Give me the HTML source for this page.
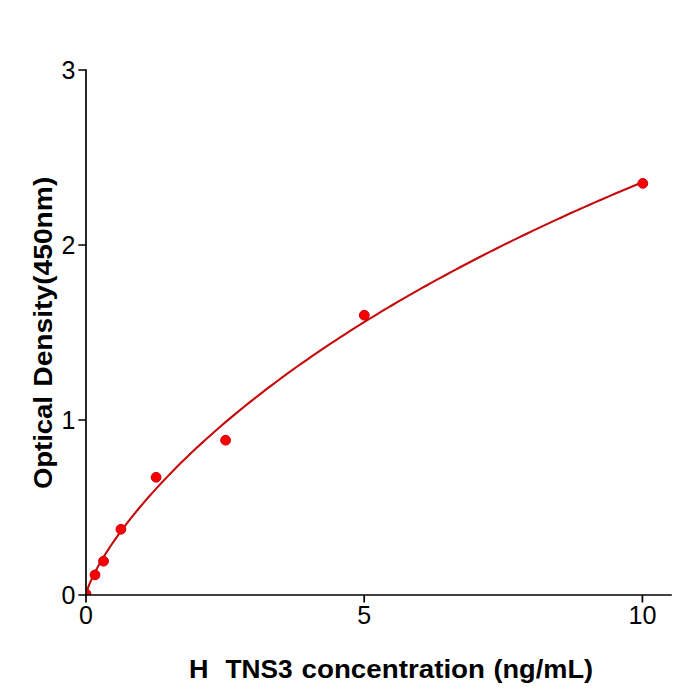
<!DOCTYPE html>
<html><head><meta charset="utf-8"><style>
html,body{margin:0;padding:0;background:#fff;width:700px;height:700px;overflow:hidden}
svg{display:block}
text{font-family:"Liberation Sans",sans-serif;fill:#000}
</style></head><body>
<svg width="700" height="700" viewBox="0 0 700 700">
<defs><clipPath id="ax"><rect x="86" y="0" width="600" height="595"/></clipPath></defs>
<g clip-path="url(#ax)">
<polyline points="86.00,595.00 86.01,594.89 86.04,594.67 86.09,594.38 86.15,594.03 86.24,593.63 86.35,593.18 86.47,592.69 86.61,592.15 86.78,591.58 86.96,590.97 87.16,590.33 87.38,589.65 87.62,588.95 87.88,588.21 88.16,587.44 88.46,586.64 88.77,585.82 89.11,584.97 89.46,584.09 89.84,583.19 90.23,582.27 90.64,581.32 91.07,580.35 91.52,579.35 91.99,578.33 92.48,577.30 92.99,576.24 93.52,575.16 94.07,574.06 94.63,572.94 95.22,571.80 95.82,570.64 96.44,569.46 97.09,568.27 97.75,567.06 98.43,565.83 99.13,564.58 99.85,563.32 100.59,562.04 101.34,560.74 102.12,559.43 102.92,558.10 103.73,556.76 104.57,555.40 105.42,554.03 106.29,552.64 107.19,551.24 108.10,549.82 109.03,548.39 109.98,546.95 110.94,545.49 111.93,544.03 112.94,542.54 113.97,541.05 115.01,539.54 116.08,538.03 117.16,536.49 118.26,534.95 119.38,533.40 124.18,526.92 128.98,520.67 133.78,514.63 138.58,508.77 143.38,503.08 148.17,497.54 152.97,492.14 157.77,486.86 162.57,481.70 167.37,476.65 172.17,471.70 176.96,466.85 181.76,462.09 186.56,457.41 191.36,452.82 196.16,448.30 200.96,443.86 205.75,439.48 210.55,435.18 215.35,430.94 220.15,426.76 224.95,422.64 229.75,418.58 234.54,414.57 239.34,410.62 244.14,406.72 248.94,402.87 253.74,399.06 258.54,395.31 263.33,391.59 268.13,387.93 272.93,384.30 277.73,380.72 282.53,377.17 287.32,373.67 292.12,370.20 296.92,366.77 301.72,363.38 306.52,360.02 311.32,356.69 316.11,353.40 320.91,350.14 325.71,346.92 330.51,343.72 335.31,340.56 340.11,337.43 344.90,334.32 349.70,331.24 354.50,328.20 359.30,325.18 364.10,322.18 368.90,319.22 373.69,316.27 378.49,313.36 383.29,310.47 388.09,307.60 392.89,304.76 397.69,301.94 402.48,299.14 407.28,296.37 412.08,293.62 416.88,290.89 421.68,288.18 426.48,285.50 431.27,282.83 436.07,280.19 440.87,277.56 445.67,274.96 450.47,272.37 455.27,269.81 460.06,267.26 464.86,264.73 469.66,262.22 474.46,259.73 479.26,257.26 484.06,254.80 488.85,252.36 493.65,249.94 498.45,247.53 503.25,245.14 508.05,242.77 512.85,240.42 517.64,238.08 522.44,235.75 527.24,233.44 532.04,231.15 536.84,228.87 541.64,226.60 546.43,224.35 551.23,222.12 556.03,219.90 560.83,217.69 565.63,215.50 570.43,213.32 575.22,211.15 580.02,209.00 584.82,206.86 589.62,204.74 594.42,202.62 599.22,200.52 604.01,198.44 608.81,196.36 613.61,194.30 618.41,192.25 623.21,190.21 628.01,188.18 632.80,186.17 637.60,184.16 642.40,182.17" fill="none" stroke="#c40a0c" stroke-width="2.1" stroke-linejoin="round" stroke-linecap="round"/>
<g fill="#fa0000" stroke="#cc000c" stroke-width="1.0">
<circle cx="86" cy="594" r="4.9"/>
<circle cx="95" cy="574.9" r="4.9"/>
<circle cx="103.5" cy="561.2" r="4.9"/>
<circle cx="120.9" cy="529.3" r="4.9"/>
<circle cx="156.1" cy="477.3" r="4.9"/>
<circle cx="225.6" cy="440.2" r="4.9"/>
<circle cx="364.3" cy="315.2" r="4.9"/>
<circle cx="642.8" cy="183.4" r="4.9"/>
</g>
</g>
<g stroke="#000" stroke-width="1.7" fill="none" stroke-linecap="butt">
<path d="M86 69.15V595.85"/>
<path d="M85.15 595H671.8"/>
<path d="M78.3 70H86M78.3 245H86M78.3 420H86M78.3 595H86"/>
<path d="M86 595V602.6M364.2 595V602.6M642.4 595V602.6"/>
</g>
<g font-size="25" text-anchor="end">
<text x="75.5" y="78.9">3</text>
<text x="75.5" y="253.9">2</text>
<text x="75.5" y="428.9">1</text>
<text x="75.5" y="603.9">0</text>
</g>
<g font-size="25" text-anchor="middle">
<text x="86" y="623.7">0</text>
<text x="364.2" y="623.7">5</text>
<text x="642.4" y="623.7" textLength="28" lengthAdjust="spacingAndGlyphs">10</text>
</g>
<g font-size="25" font-weight="bold">
<text x="189.1" y="677.6" textLength="19.5" lengthAdjust="spacingAndGlyphs">H</text>
<text x="225.5" y="677.6" textLength="67" lengthAdjust="spacingAndGlyphs">TNS3</text>
<text x="301.5" y="677.6" textLength="183.5" lengthAdjust="spacingAndGlyphs">concentration</text>
<text x="493.5" y="677.6" textLength="99.5" lengthAdjust="spacingAndGlyphs">(ng/mL)</text>
</g>
<g font-size="25" font-weight="bold" transform="translate(52,0) rotate(-90)">
<text x="-489" y="0" textLength="93" lengthAdjust="spacingAndGlyphs">Optical</text>
<text x="-386.7" y="0" textLength="210" lengthAdjust="spacingAndGlyphs">Density(450nm)</text>
</g>
</svg>
</body></html>
